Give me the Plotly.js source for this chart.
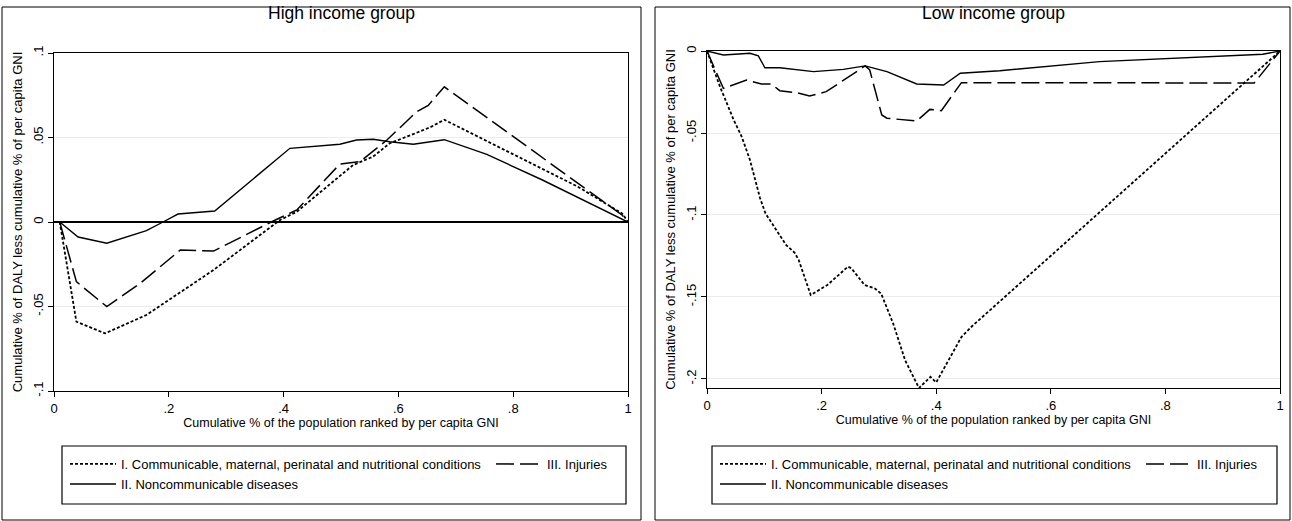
<!DOCTYPE html>
<html>
<head>
<meta charset="utf-8">
<script src="https://cdn.plot.ly/plotly-3.0.1.min.js"></script>
<style>html,body{margin:0;padding:0;background:#fff;}#chart{width:1292px;height:521px;}</style>
</head>
<body>
<div id="chart"></div>
<script>
// ---------- tick labels ----------
var xTickVals = [0, 0.2, 0.4, 0.6, 0.8, 1];
var xTickText = ['0', '.2', '.4', '.6', '.8', '1'];
var hiYTickVals = [-0.1, -0.05, 0, 0.05, 0.1];
var hiYTickText = ['-.1', '-.05', '0', '.05', '.1'];
var loYTickVals = [-0.2, -0.15, -0.1, -0.05, 0];
var loYTickText = ['-.2', '-.15', '-.1', '-.05', '0'];

// ---------- series names ----------
var nameComm = 'I. Communicable, maternal, perinatal and nutritional conditions';
var nameNcd = 'II. Noncommunicable diseases';
var nameInj = 'III. Injuries';

// ---------- High income group ----------
var hiCommX = [0.01, 0.039, 0.089, 0.109, 0.161, 0.22, 0.278, 0.336, 0.394, 0.423, 0.469, 0.521, 0.556, 0.585, 0.626, 0.655, 0.68, 0.912, 0.99, 1];
var hiCommY = [0, -0.059, -0.0659, -0.0629, -0.055, -0.0416, -0.0284, -0.0136, 0.0012, 0.0061, 0.019, 0.0337, 0.0387, 0.0466, 0.052, 0.056, 0.0605, 0.021, 0.005, 0];
var hiInjX = [0.01, 0.039, 0.092, 0.15, 0.22, 0.278, 0.382, 0.423, 0.498, 0.533, 0.58, 0.632, 0.652, 0.68, 0.99, 1];
var hiInjY = [0, -0.0353, -0.0501, -0.0363, -0.0166, -0.0172, 0.0006, 0.0071, 0.0343, 0.0357, 0.0485, 0.0653, 0.069, 0.080, 0.004, 0];
var hiNcdX = [0.01, 0.042, 0.092, 0.161, 0.19, 0.216, 0.28, 0.411, 0.498, 0.527, 0.556, 0.585, 0.626, 0.68, 0.754, 0.85, 1];
var hiNcdY = [0, -0.0089, -0.0126, -0.0051, 0, 0.0047, 0.0065, 0.0436, 0.046, 0.0485, 0.049, 0.0475, 0.046, 0.0487, 0.040, 0.025, 0];

// ---------- Low income group ----------
var loCommX = [0, 0.0227, 0.0466, 0.0605, 0.075, 0.0925, 0.102, 0.124, 0.138, 0.153, 0.16, 0.181, 0.21, 0.246, 0.252, 0.275, 0.293, 0.304, 0.325, 0.346, 0.37, 0.39, 0.40, 0.444, 0.462, 1];
var loCommY = [0, -0.0218, -0.042, -0.0522, -0.0665, -0.0896, -0.099, -0.111, -0.1183, -0.123, -0.1274, -0.1488, -0.1427, -0.1315, -0.1325, -0.1427, -0.1448, -0.148, -0.1663, -0.1888, -0.2055, -0.1987, -0.2021, -0.1744, -0.168, 0];
var loInjX = [0, 0.0285, 0.069, 0.095, 0.112, 0.127, 0.156, 0.179, 0.208, 0.276, 0.284, 0.305, 0.314, 0.366, 0.389, 0.40, 0.409, 0.444, 0.955, 1];
var loInjY = [0, -0.0228, -0.0177, -0.0201, -0.0201, -0.0242, -0.0254, -0.0274, -0.0248, -0.0091, -0.0116, -0.039, -0.041, -0.0427, -0.0356, -0.036, -0.0364, -0.0193, -0.0195, 0];
var loNcdX = [0, 0.0285, 0.075, 0.0896, 0.101, 0.127, 0.186, 0.238, 0.276, 0.314, 0.366, 0.413, 0.442, 0.511, 0.685, 0.86, 0.97, 1];
var loNcdY = [0, -0.0024, -0.0014, -0.003, -0.0102, -0.0102, -0.0126, -0.0112, -0.0091, -0.0126, -0.0201, -0.0207, -0.0136, -0.012, -0.0065, -0.0035, -0.002, 0];

// ---------- styling ----------
var W = 1292, H = 521;
function px(x) { return x / W; }
function py(y) { return 1 - y / H; }
var fontMain = 'Liberation Sans, Arial, sans-serif';
var fontNarrow = 'Liberation Sans Narrow, Arial Narrow, Liberation Sans, sans-serif';
var styleComm = {color: '#000', width: 1.8, dash: '3px,2px'};
var styleInj = {color: '#000', width: 1.5, dash: '18px,6px'};
var styleNcd = {color: '#000', width: 1.4};

function tr(x, y, name, line, xa, ya, legend, lw) {
  var t = {x: x, y: y, name: name, type: 'scatter', mode: 'lines', line: line,
           xaxis: xa, yaxis: ya, legend: legend, hoverinfo: 'skip'};
  if (lw) t.legendwidth = lw;
  return t;
}

var colW = 365;
var data = [
  tr(hiCommX, hiCommY, nameComm, styleComm, 'x', 'y', 'legend', colW),
  tr(hiInjX, hiInjY, nameInj, styleInj, 'x', 'y', 'legend'),
  tr(hiNcdX, hiNcdY, nameNcd, styleNcd, 'x', 'y', 'legend2'),
  tr(loCommX, loCommY, nameComm, styleComm, 'x2', 'y2', 'legend3', colW),
  tr(loInjX, loInjY, nameInj, styleInj, 'x2', 'y2', 'legend3'),
  tr(loNcdX, loNcdY, nameNcd, styleNcd, 'x2', 'y2', 'legend4')
];

function xAxis(d0, d1, anchor) {
  return {
    domain: [px(d0), px(d1)], anchor: anchor, range: [0, 1],
    tickmode: 'array', tickvals: xTickVals, ticktext: xTickText,
    ticks: 'outside', ticklen: 5, tickwidth: 1, tickcolor: '#000',
    showline: true, linecolor: '#000', linewidth: 1.3, mirror: true,
    showgrid: false, zeroline: false, automargin: false,
    tickfont: {family: fontMain, size: 13, color: '#000'},
    title: {text: 'Cumulative % of the population ranked by per capita GNI',
            font: {family: fontNarrow, size: 12.5, color: '#000'}, standoff: 3}
  };
}
function yAxis(d0, d1, anchor, range, vals, text) {
  return {
    domain: [py(d1), py(d0)], anchor: anchor, range: range,
    tickmode: 'array', tickvals: vals, ticktext: text, tickangle: -90,
    ticks: 'outside', ticklen: 5, tickwidth: 1, tickcolor: '#000',
    showline: true, linecolor: '#000', linewidth: 1.3, mirror: true,
    showgrid: true, gridcolor: '#ececec', gridwidth: 1,
    zeroline: true, zerolinecolor: '#000', zerolinewidth: 1.8, automargin: false,
    tickfont: {family: fontMain, size: 13, color: '#000'},
    title: {text: 'Cumulative % of DALY less cumulative % of per capita GNI',
            font: {family: fontMain, size: 13, color: '#000'}, standoff: 5}
  };
}

function legendCfg(x, y) {
  return {x: px(x), y: py(y), xanchor: 'left', yanchor: 'middle', orientation: 'h',
          bgcolor: 'rgba(0,0,0,0)', borderwidth: 0, itemwidth: 46, tracegroupgap: 0,
          font: {family: fontNarrow, size: 13, color: '#000'}, itemclick: false, itemdoubleclick: false};
}

var layout = {
  width: W, height: H, margin: {l: 0, r: 0, t: 0, b: 0},
  paper_bgcolor: '#fff', plot_bgcolor: '#fff', showlegend: true,
  xaxis: xAxis(54, 628, 'y'),
  yaxis: yAxis(53, 391, 'x', [-0.1, 0.1], hiYTickVals, hiYTickText),
  xaxis2: xAxis(707, 1280, 'y2'),
  yaxis2: yAxis(51, 388, 'x2', [-0.2055, 0], loYTickVals, loYTickText),
  legend: legendCfg(65, 464),
  legend2: legendCfg(65, 484),
  legend3: legendCfg(715, 464),
  legend4: legendCfg(715, 484),
  annotations: [
    {text: 'High income group', x: px(341), y: py(13), xref: 'paper', yref: 'paper',
     showarrow: false, xanchor: 'center', yanchor: 'middle', font: {family: fontMain, size: 17.5, color: '#000'}},
    {text: 'Low income group', x: px(993), y: py(13), xref: 'paper', yref: 'paper',
     showarrow: false, xanchor: 'center', yanchor: 'middle', font: {family: fontMain, size: 17.5, color: '#000'}}
  ],
  shapes: [
    {type: 'rect', xref: 'paper', yref: 'paper', x0: px(2), x1: px(641), y0: py(520), y1: py(7), line: {color: '#000', width: 1}},
    {type: 'rect', xref: 'paper', yref: 'paper', x0: px(655), x1: px(1290), y0: py(520), y1: py(7), line: {color: '#000', width: 1}},
    {type: 'rect', xref: 'paper', yref: 'paper', x0: px(62), x1: px(626), y0: py(504), y1: py(446), line: {color: '#000', width: 1.2}},
    {type: 'rect', xref: 'paper', yref: 'paper', x0: px(712), x1: px(1277), y0: py(504), y1: py(446), line: {color: '#000', width: 1.2}}
  ]
};

Plotly.newPlot('chart', data, layout, {staticPlot: true, displayModeBar: false});
</script>
</body>
</html>
